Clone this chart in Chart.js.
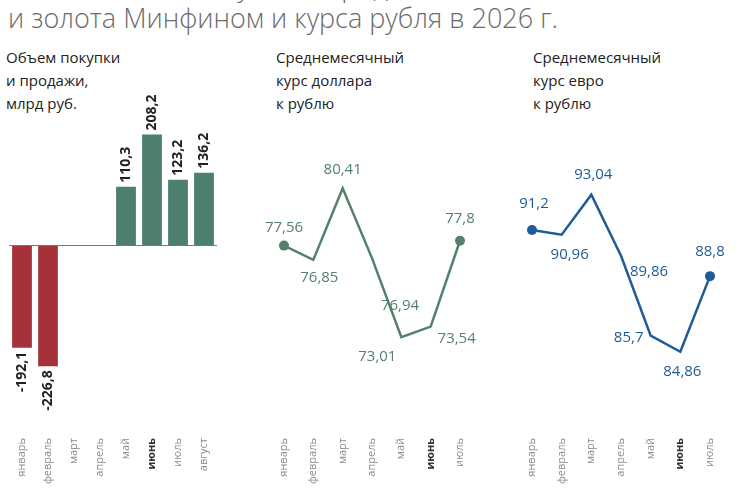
<!DOCTYPE html>
<html>
<head>
<meta charset="utf-8">
<script src="https://cdn.jsdelivr.net/npm/chart.js@4"></script>
<style>
  body { margin: 0; width: 750px; height: 500px; position: relative; overflow: hidden; background: #fff; font-family: "Open Sans", sans-serif; }
  canvas { position: absolute; left: 0; top: 0; }
  .title { position: absolute; left: 8px; top: -30px; font-size: 27px; line-height: 32px; color: #6b6b6b; font-weight: 300; white-space: nowrap; }
  .sub { position: absolute; top: 46px; font-size: 15px; line-height: 23px; color: #222; }
</style>
</head>
<body>
<div class="title">Соотношение покупки и продаж валюты<br>и золота Минфином и курса рубля в 2026 г.</div>
<div class="sub" style="left:6px">Объем покупки<br>и продажи,<br>млрд руб.</div>
<div class="sub" style="left:276px">Среднемесячный<br>курс доллара<br>к рублю</div>
<div class="sub" style="left:533px">Среднемесячный<br>курс евро<br>к рублю</div>
<canvas id="bars" width="750" height="500"></canvas>
<canvas id="usd" width="750" height="500"></canvas>
<canvas id="eur" width="750" height="500"></canvas>
<script>
const barMonths = ['январь', 'февраль', 'март', 'апрель', 'май', 'июнь', 'июль', 'август'];
const barValues = [-192.1, -226.8, 0, 0, 110.3, 208.2, 123.2, 136.2];
const lineMonths = ['январь', 'февраль', 'март', 'апрель', 'май', 'июнь', 'июль'];
const usdValues = [77.56, 76.85, 80.41, 76.94, 73.01, 73.54, 77.8];
const eurValues = [91.2, 90.96, 93.04, 89.86, 85.7, 84.86, 88.8];

const fmt = v => String(v).replace('.', ',');

function xAxis() {
    return {
        offset: true,
        grid: { display: false },
        border: { display: false },
        ticks: {
            minRotation: 90, maxRotation: 90, padding: 6,
            font: ctx => ({ family: 'Open Sans', size: 11, weight: ctx.index === 5 ? 'bold' : 'normal' }),
            color: ctx => ctx.index === 5 ? '#333' : '#8c8c8c'
        }
    };
}

// value labels for bars
const barLabels = {
    id: 'barLabels',
    afterDatasetsDraw(chart) {
        const ctx = chart.ctx;
        chart.getDatasetMeta(0).data.forEach((el, i) => {
            const v = barValues[i];
            if (!v) return;
            ctx.save();
            ctx.translate(el.x, v > 0 ? el.y - 4 : el.y + 4);
            ctx.rotate(-Math.PI / 2);
            ctx.font = 'bold 14px "Open Sans"';
            ctx.fillStyle = '#222';
            ctx.textBaseline = 'middle';
            ctx.textAlign = v > 0 ? 'left' : 'right';
            ctx.fillText(fmt(v), 0, 0);
            ctx.restore();
        });
    }
};

new Chart(document.getElementById('bars'), {
    type: 'bar',
    data: {
        labels: barMonths,
        datasets: [{
            data: barValues,
            backgroundColor: barValues.map(v => v < 0 ? '#a5323a' : '#4d7f6d'),
            categoryPercentage: 0.95, barPercentage: 0.8
        }]
    },
    options: {
        responsive: false, animation: false,
        layout: { padding: { left: 9, right: 533, top: 125, bottom: 10 } },
        plugins: { legend: { display: false }, tooltip: { enabled: false } },
        scales: {
            x: xAxis(),
            y: {
                display: true, min: -335, max: 226,
                ticks: { display: false }, border: { display: false },
                grid: { drawTicks: false, color: c => c.tick.value === 0 ? '#777' : 'transparent' },
                afterBuildTicks: s => { s.ticks = [{ value: 0 }]; }
            }
        }
    },
    plugins: [barLabels]
});

function lineLabels(values, color, pos) {
    return {
        id: 'lineLabels',
        afterDatasetsDraw(chart) {
            const ctx = chart.ctx;
            ctx.save();
            ctx.font = '15px "Open Sans"';
            ctx.fillStyle = color;
            ctx.textAlign = 'center';
            ctx.textBaseline = 'middle';
            chart.getDatasetMeta(0).data.forEach((el, i) => {
                const [dx, dy] = pos[i];
                ctx.fillText(fmt(values[i]), el.x + dx, el.y + dy);
            });
            ctx.restore();
        }
    };
}

function lineChart(id, values, color, min, max, padL, padR, pos) {
    new Chart(document.getElementById(id), {
        type: 'line',
        data: {
            labels: lineMonths,
            datasets: [{
                data: values, borderColor: color, borderWidth: 2.5, tension: 0,
                pointRadius: values.map((v, i) => i === 0 || i === values.length - 1 ? 5 : 0),
                pointBackgroundColor: color, pointBorderWidth: 0
            }]
        },
        options: {
            responsive: false, animation: false,
            layout: { padding: { left: padL, right: padR, top: 125, bottom: 10 } },
            plugins: { legend: { display: false }, tooltip: { enabled: false } },
            scales: {
                x: Object.assign(xAxis(), { offset: false }),
                y: { display: false, min: min, max: max }
            }
        },
        plugins: [lineLabels(values, color, pos)]
    });
}

lineChart('usd', usdValues, '#55806a', 68.7, 83.55, 284, 290,
    [[0, -18], [6, 18], [0, -18], [28, 48], [-24, 20], [26, 12], [0, -22]]);
lineChart('eur', eurValues, '#1f5b94', 81.1, 96.67, 532, 40,
    [[2, -26], [8, 20], [2, -20], [28, 16], [-22, 2], [2, 20], [0, -24]]);
</script>
</body>
</html>
